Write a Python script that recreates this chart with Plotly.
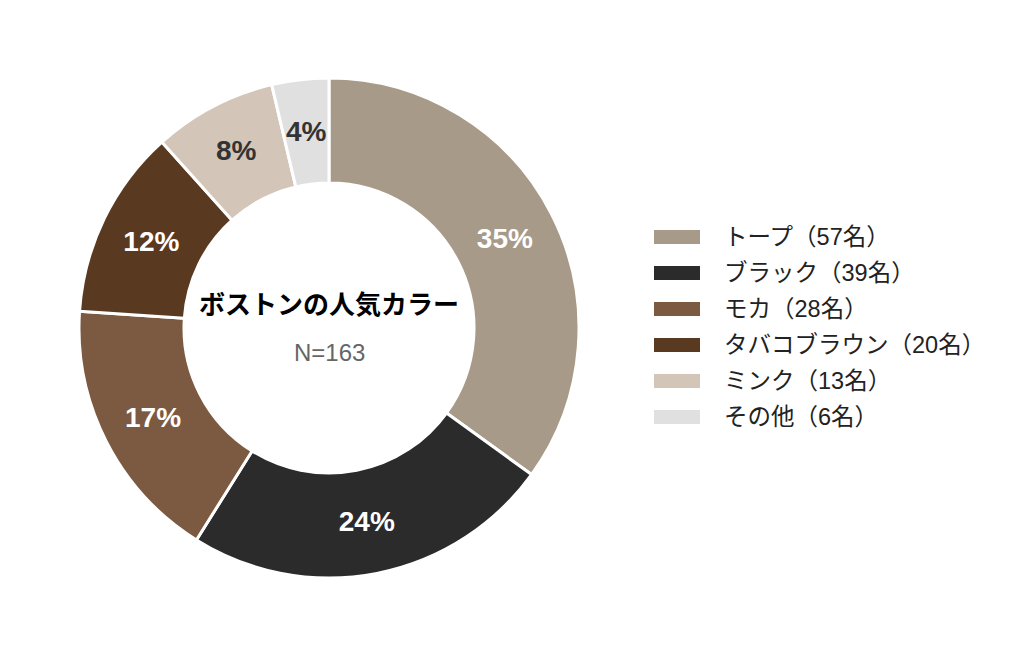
import math
import plotly.graph_objects as go

# data
labels = ["トープ", "ブラック", "モカ", "タバコブラウン", "ミンク", "その他"]
counts = [57, 39, 28, 20, 13, 6]
colors = ["#a89a89", "#2b2b2b", "#7b5a41", "#5a3921", "#d3c5b7", "#e0e0e0"]
text_colors = ["white", "white", "white", "white", "#333333", "#333333"]
title_text = "ボストンの人気カラー"
n_text = "N=" + str(sum(counts))

W, H = 1024, 657
OFF = 8  # page body margin in the browser
FONT = "Liberation Sans, Noto Sans CJK JP, sans-serif"
FONT_JP = "Noto Sans CJK JP, sans-serif"

CX, CY, R, HOLE = 329, 328, 250, 0.58


def px(x):
    return (x - OFF) / W


def py_(y):
    return 1 - (y - OFF) / H


total = sum(counts)
# the smallest slice label is placed by hand at the ring middle
positions = ["inside"] * (len(counts) - 1) + ["none"]

fig = go.Figure()
fig.add_trace(go.Pie(
    labels=labels,
    values=counts,
    sort=False,
    direction="clockwise",
    rotation=0,
    hole=HOLE,
    marker=dict(colors=colors, line=dict(color="white", width=3)),
    texttemplate="<b>%{percent:.0%}</b>",
    textposition=positions,
    insidetextorientation="horizontal",
    insidetextfont=dict(color=text_colors, size=28, family=FONT),
    domain=dict(x=[px(CX - R), px(CX + R)], y=[py_(CY + R), py_(CY - R)]),
    showlegend=False,
    hoverinfo="label+value+percent",
))

frac = (total - counts[-1] / 2) / total
theta = 2 * math.pi * frac
rmid = R * (1 + HOLE) / 2
fig.add_annotation(x=px(CX + rmid * math.sin(theta)),
                   y=py_(CY - rmid * math.cos(theta)),
                   xref="paper", yref="paper", showarrow=False,
                   xanchor="center", yanchor="middle",
                   text=f"<b>{round(100 * counts[-1] / total)}%</b>",
                   font=dict(size=28, color=text_colors[-1], family=FONT))

# centre text
fig.add_annotation(x=px(CX), y=py_(303), xref="paper", yref="paper",
                   text="<b>" + title_text + "</b>", showarrow=False,
                   xanchor="center", yanchor="middle",
                   font=dict(size=26, color="black", family=FONT_JP))
fig.add_annotation(x=px(CX), y=py_(352), xref="paper", yref="paper",
                   text=n_text, showarrow=False,
                   xanchor="center", yanchor="middle",
                   font=dict(size=24, color="#666666", family=FONT))

# legend drawn by hand (wide swatches)
row0, step = 237, 36
for i, (lab, c, col) in enumerate(zip(labels, counts, colors)):
    yc = row0 + i * step
    fig.add_shape(type="rect", xref="paper", yref="paper",
                  x0=px(654), x1=px(700), y0=py_(yc + 7), y1=py_(yc - 7),
                  fillcolor=col, line=dict(width=0))
    fig.add_annotation(x=px(722), y=py_(yc), xref="paper", yref="paper",
                       text=f"{lab}（{c}名）", showarrow=False,
                       xanchor="left", yanchor="middle",
                       font=dict(size=23.5, color="#222222", family=FONT))

fig.update_layout(
    width=W, height=H,
    margin=dict(l=0, r=0, t=0, b=0),
    paper_bgcolor="white",
    plot_bgcolor="white",
    font=dict(family=FONT),
)

fig.write_html("out.html")
